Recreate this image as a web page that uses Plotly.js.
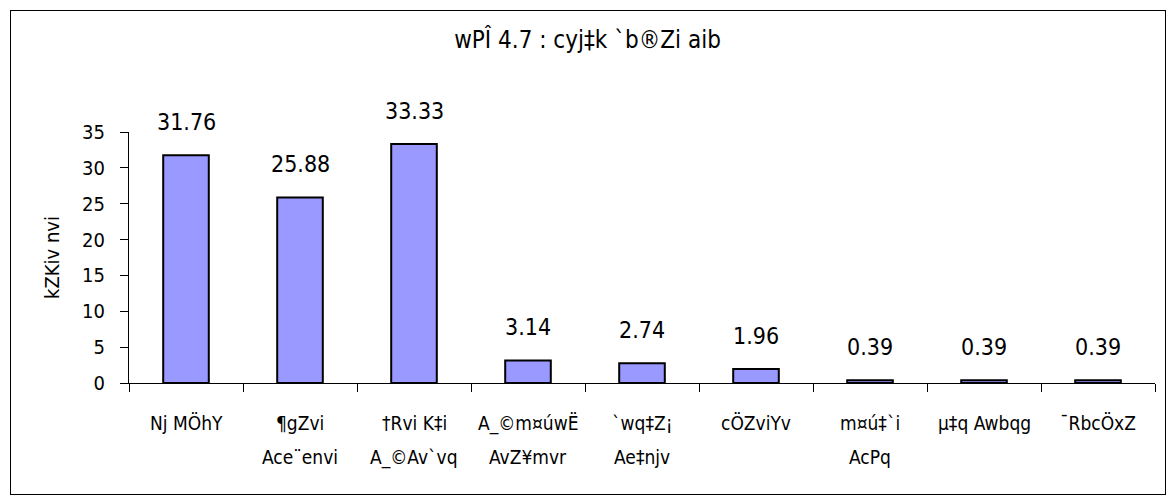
<!DOCTYPE html>
<html>
<head>
<meta charset="utf-8">
<script src="https://cdn.plot.ly/plotly-3.0.1.min.js"></script>
<style>
  body { margin: 0; background: #fff; }
  #wrap { position: relative; width: 1175px; height: 504px; }
  #viz { width: 1175px; height: 504px; }
  #frame { position: absolute; left: 10px; top: 10px; width: 1154px; height: 483px;
           border: 1px solid #000; pointer-events: none; }
</style>
</head>
<body>
<div id="wrap">
  <div id="viz"></div>
  <div id="frame"></div>
</div>
<script>
var categories = ['Nj MÖhY', '¶gZvi Ace¨envi', '†Rvi K‡i A_©Av`vq', 'A_©m¤úwË AvZ¥mvr',
                  '`wq‡Z¡ Ae‡njv', 'cÖZviYv', 'm¤ú‡`i AcPq', 'µ‡q Awbqg', '¯RbcÖxZ'];
var labelLine1 = ['Nj MÖhY', '¶gZvi', '†Rvi K‡i', 'A_©m¤úwË', '`wq‡Z¡', 'cÖZviYv', 'm¤ú‡`i', 'µ‡q Awbqg', '¯RbcÖxZ'];
var labelLine2 = ['', 'Ace¨envi', 'A_©Av`vq', 'AvZ¥mvr', 'Ae‡njv', '', 'AcPq', '', ''];
var percent = [31.76, 25.88, 33.33, 3.14, 2.74, 1.96, 0.39, 0.39, 0.39];
var yTicks = [0, 5, 10, 15, 20, 25, 30, 35];

var fontFam = '"DejaVu Sans Condensed", "Liberation Sans", Arial, sans-serif';

var bars = {
  type: 'bar',
  x: categories,
  y: percent,
  width: 0.4,
  marker: { color: '#9999FF', line: { color: '#000', width: 2 } },
  hoverinfo: 'none'
};

// value labels above bars, then the two-line category labels under the axis
var notes = [];
percent.forEach(function (v, i) {
  notes.push({ x: categories[i], y: v, xref: 'x', yref: 'y', text: v.toFixed(2),
               showarrow: false, yanchor: 'middle', yshift: 33,
               font: { size: 23, color: '#000', family: fontFam } });
});
categories.forEach(function (c, i) {
  notes.push({ x: c, y: 0, xref: 'x', yref: 'y', text: labelLine1[i],
               showarrow: false, yanchor: 'middle', yshift: -40,
               font: { size: 19, color: '#000', family: fontFam } });
  if (labelLine2[i]) {
    notes.push({ x: c, y: 0, xref: 'x', yref: 'y', text: labelLine2[i],
                 showarrow: false, yanchor: 'middle', yshift: -74,
                 font: { size: 19, color: '#000', family: fontFam } });
  }
});

var layout = {
  width: 1175,
  height: 504,
  margin: { l: 129, r: 20, t: 132, b: 121 },
  paper_bgcolor: '#fff',
  plot_bgcolor: '#fff',
  showlegend: false,
  font: { family: fontFam, color: '#000' },
  title: { text: 'wPÎ 4.7 : cyj‡k `b®Zi aib', x: 0.5, xref: 'container', xanchor: 'center',
           y: 1 - 40 / 504, yref: 'container', yanchor: 'middle',
           font: { size: 24, color: '#000', family: fontFam } },
  xaxis: {
    showticklabels: false,
    ticks: 'outside', tickson: 'boundaries', ticklen: 8, tickcolor: '#000', tickwidth: 1,
    showline: true, linecolor: '#000', linewidth: 1,
    showgrid: false, zeroline: false, fixedrange: true
  },
  yaxis: {
    range: [0, 35], tickmode: 'array', tickvals: yTicks,
    ticks: 'outside', ticklen: 8, tickcolor: '#000', tickwidth: 1,
    ticklabelstandoff: 11,
    tickfont: { size: 20, color: '#000', family: fontFam },
    showline: true, linecolor: '#000', linewidth: 1,
    showgrid: false, zeroline: false, fixedrange: true,
    title: { text: 'kZKiv nvi', standoff: 17, font: { size: 20, color: '#000', family: fontFam } }
  },
  annotations: notes
};

Plotly.newPlot('viz', [bars], layout, { displayModeBar: false, staticPlot: true });
</script>
</body>
</html>
